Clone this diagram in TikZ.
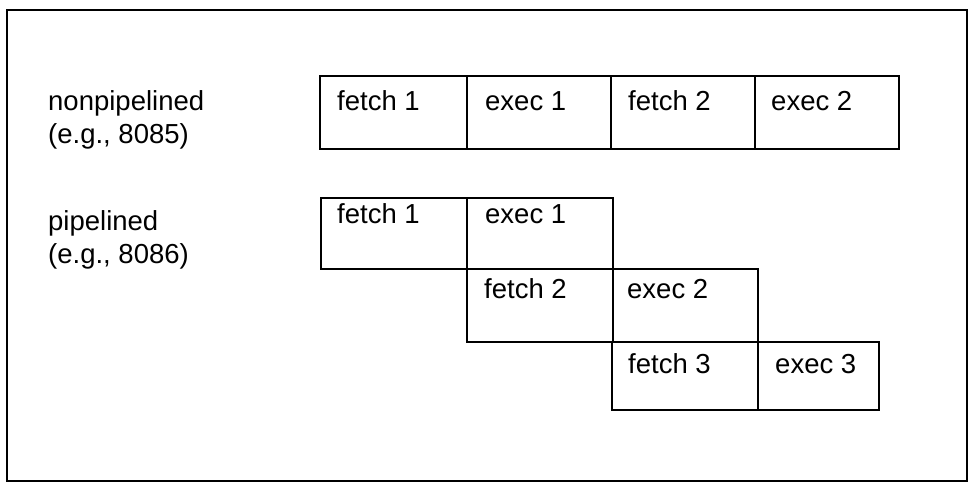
\documentclass[tikz,border=0pt]{standalone}
\usepackage{fontspec}
\setmainfont{Liberation Sans}
\usepackage{tikz}
\usetikzlibrary{positioning}

\begin{document}
\begin{tikzpicture}
			[x=1pt,y=-1pt,line cap=round,
			%Styles
			frame line/.style={line width=2.2pt},
			stage/.style={draw,line width=1.8pt,anchor=north west,inner sep=0pt,
				minimum width=144pt,minimum height=73pt},
			stage text/.style={anchor=base west,inner sep=0pt,font=\fontsize{27.5}{33}\selectfont},
			row text/.style={anchor=base west,inner sep=0pt,align=left,font=\fontsize{27.5}{33}\selectfont}
			]
			
			\useasboundingbox (0,0) rectangle (969,483);
			\draw[frame line] (7,10) rectangle (967,481);
			
			%Row labels (base = last line)
			\node[row text] (nonpipe) at (48,143) {nonpipelined\\(e.g., 8085)};
			\node[row text] (pipe) at (48,263) {pipelined\\(e.g., 8086)};
			
			%Nonpipelined
			\node[stage,minimum width=147pt] (nf1) at (319,75) {};
			\node[stage] (ne1) at (466,75) {};
			\node[stage] (nf2) at (610,75) {};
			\node[stage] (ne2) at (754,75) {};
			\node[stage text] at ([shift={(18,35)}]nf1.north west) {fetch 1};
			\node[stage text] at ([shift={(19,35)}]ne1.north west) {exec 1};
			\node[stage text] at ([shift={(18,35)}]nf2.north west) {fetch 2};
			\node[stage text] at ([shift={(17,35)}]ne2.north west) {exec 2};
			
			%Pipelined
			\node[stage,minimum width=146pt,minimum height=71pt] (pf1) at (320,197) {};
			\node[stage,minimum width=146pt,minimum height=71pt] (pe1) at (466,197) {};
			\node[stage,minimum width=146pt] (pf2) at (466,268) {};
			\node[stage,minimum width=145pt] (pe2) at (612,268) {};
			\node[stage,minimum width=146pt,minimum height=68pt] (pf3) at (611,341) {};
			\node[stage,minimum width=121pt,minimum height=68pt] (pe3) at (757,341) {};
			\node[stage text] at ([shift={(17,26)}]pf1.north west) {fetch 1};
			\node[stage text] at ([shift={(19,26)}]pe1.north west) {exec 1};
			\node[stage text] at ([shift={(18,30)}]pf2.north west) {fetch 2};
			\node[stage text] at ([shift={(15,30)}]pe2.north west) {exec 2};
			\node[stage text] at ([shift={(17,32)}]pf3.north west) {fetch 3};
			\node[stage text] at ([shift={(18,32)}]pe3.north west) {exec 3};
		\end{tikzpicture}
\end{document}
